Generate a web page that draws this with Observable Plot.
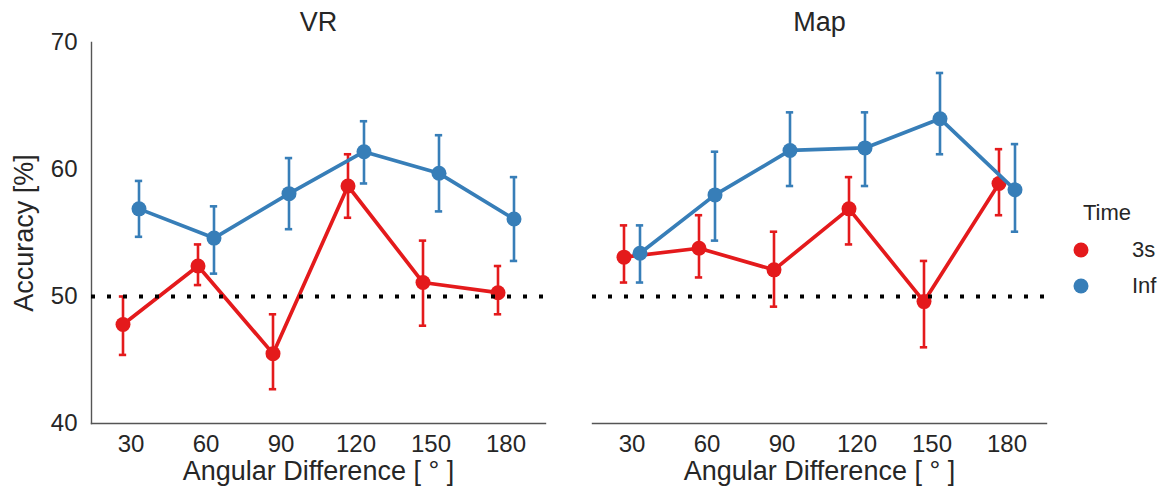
<!DOCTYPE html>
<html>
<head>
<meta charset="utf-8">
<script src="https://cdn.jsdelivr.net/npm/d3@7"></script>
<script src="https://cdn.jsdelivr.net/npm/@observablehq/plot@0.6"></script>
<style>
  html, body { margin: 0; padding: 0; background: #fff; }
  #wrap { position: relative; width: 1166px; height: 494px; font-family: "Liberation Sans", Arial, sans-serif; color: #262626; }
  #legend { position: absolute; left: 0; top: 0; width: 1166px; height: 494px; pointer-events: none; font-size: 22px; }
  #legend .t { position: absolute; line-height: 1; transform: translateY(-50%); white-space: nowrap; }
  #legend .sw { position: absolute; width: 15px; height: 15px; border-radius: 50%; transform: translate(-50%, -50%); }
</style>
</head>
<body>
<div id="wrap"><div id="legend"></div></div>
<script>
const panels = ["VR", "Map"];
const categories = ["30", "60", "90", "120", "150", "180"];
const times = ["3s", "Inf"];
const timeColors = ["#e41a1c", "#377eb8"];

// VR panel
const vr3sMean = [47.8, 52.4, 45.5, 58.7, 51.1, 50.3];
const vr3sLo   = [45.4, 50.9, 42.7, 56.2, 47.7, 48.6];
const vr3sHi   = [50.0, 54.1, 48.6, 61.2, 54.4, 52.4];
const vrInfMean = [56.9, 54.6, 58.1, 61.4, 59.7, 56.1];
const vrInfLo   = [54.7, 51.8, 55.3, 58.9, 56.7, 52.8];
const vrInfHi   = [59.1, 57.1, 60.9, 63.8, 62.7, 59.4];

// Map panel
const map3sMean = [53.1, 53.8, 52.1, 56.9, 49.6, 58.9];
const map3sLo   = [51.1, 51.5, 49.2, 54.1, 46.0, 56.4];
const map3sHi   = [55.6, 56.4, 55.1, 59.4, 52.8, 61.6];
const mapInfMean = [53.4, 58.0, 61.5, 61.7, 64.0, 58.4];
const mapInfLo   = [51.1, 54.4, 58.7, 58.7, 61.2, 55.1];
const mapInfHi   = [55.6, 61.4, 64.5, 64.5, 67.6, 62.0];

const yTicks = [40, 50, 60, 70];
const chanceLevel = [50];
const xLabel = "Angular Difference [ ° ]";
const yLabel = "Accuracy [%]";
const legendTitle = "Time";

const series = [
  {panel: "VR", time: "3s", mean: vr3sMean, lo: vr3sLo, hi: vr3sHi},
  {panel: "VR", time: "Inf", mean: vrInfMean, lo: vrInfLo, hi: vrInfHi},
  {panel: "Map", time: "3s", mean: map3sMean, lo: map3sLo, hi: map3sHi},
  {panel: "Map", time: "Inf", mean: mapInfMean, lo: mapInfLo, hi: mapInfHi}
];
const rows = [];
for (const s of series) {
  categories.forEach((c, i) => rows.push({panel: s.panel, time: s.time, angle: c, mean: s.mean[i], lo: s.lo[i], hi: s.hi[i]}));
}

const W = 1166, H = 494, ML = 91, MR = 120, MT = 42, MB = 71;
const gapFrac = 0.094;
const bandW = ((W - ML - MR) / (2 - gapFrac)) * (1 - gapFrac) / categories.length;
const capW = 8;
const capInset = (bandW - capW) / 2;
const dodge = 8;
const ink = "#262626";

const marks = [];
times.forEach((t, k) => {
  const data = rows.filter(d => d.time === t);
  const color = timeColors[k];
  const dx = k === 0 ? -dodge : dodge;
  marks.push(
    Plot.ruleX(data, {x: "angle", y1: "lo", y2: "hi", fx: "panel", stroke: color, strokeWidth: 2.6, dx}),
    Plot.tickY(data, {x: "angle", y: "lo", fx: "panel", stroke: color, strokeWidth: 2.6, insetLeft: capInset, insetRight: capInset, dx}),
    Plot.tickY(data, {x: "angle", y: "hi", fx: "panel", stroke: color, strokeWidth: 2.6, insetLeft: capInset, insetRight: capInset, dx}),
    Plot.line(data, {x: "angle", y: "mean", z: "panel", fx: "panel", stroke: color, strokeWidth: 3.7, dx}),
    Plot.dot(data, {x: "angle", y: "mean", fx: "panel", fill: color, r: 7.5, dx})
  );
});

const chart = Plot.plot({
  width: W, height: H,
  marginLeft: ML, marginRight: MR, marginTop: MT, marginBottom: MB,
  style: {fontFamily: "'Liberation Sans', Arial, sans-serif", color: ink, background: "transparent"},
  fx: {domain: panels, paddingInner: gapFrac, paddingOuter: 0, label: null},
  x: {type: "band", domain: categories, padding: 0, label: null},
  y: {domain: [40, 70], label: null},
  marks: [
    Plot.axisFx({anchor: "top", tickSize: 0, tickPadding: 12, fontSize: 27, label: null, fill: ink}),
    Plot.axisX({tickSize: 0, tickPadding: 11, fontSize: 24, label: null, fill: ink}),
    Plot.axisY({ticks: yTicks, tickSize: 0, tickPadding: 14, fontSize: 24, label: null, fill: ink}),
    Plot.frame({anchor: "bottom", stroke: "#555", strokeWidth: 1.4}),
    Plot.frame({anchor: "left", stroke: "#555", strokeWidth: 1.4, facetAnchor: "left"}),
    Plot.text([xLabel], {text: d => d, frameAnchor: "bottom", dy: 56, fontSize: 27, fill: ink}),
    Plot.text([yLabel], {text: d => d, frameAnchor: "left", textAnchor: "middle", dx: -67, rotate: -90, fontSize: 27, fill: ink, facetAnchor: "left"}),
    ...marks,
    Plot.ruleY(chanceLevel, {stroke: "black", strokeWidth: 4, strokeDasharray: "4,12"})
  ]
});
document.getElementById("wrap").prepend(chart);

const legend = document.getElementById("legend");
function addText(txt, x, y) {
  const el = document.createElement("div");
  el.className = "t";
  el.style.left = x + "px";
  el.style.top = y + "px";
  el.textContent = txt;
  legend.appendChild(el);
}
addText(legendTitle, 1083, 213);
times.forEach((t, k) => {
  const y = 250 + k * 36;
  const sw = document.createElement("div");
  sw.className = "sw";
  sw.style.left = "1081px";
  sw.style.top = y + "px";
  sw.style.background = timeColors[k];
  legend.appendChild(sw);
  addText(t, 1132, y);
});
</script>
</body>
</html>
